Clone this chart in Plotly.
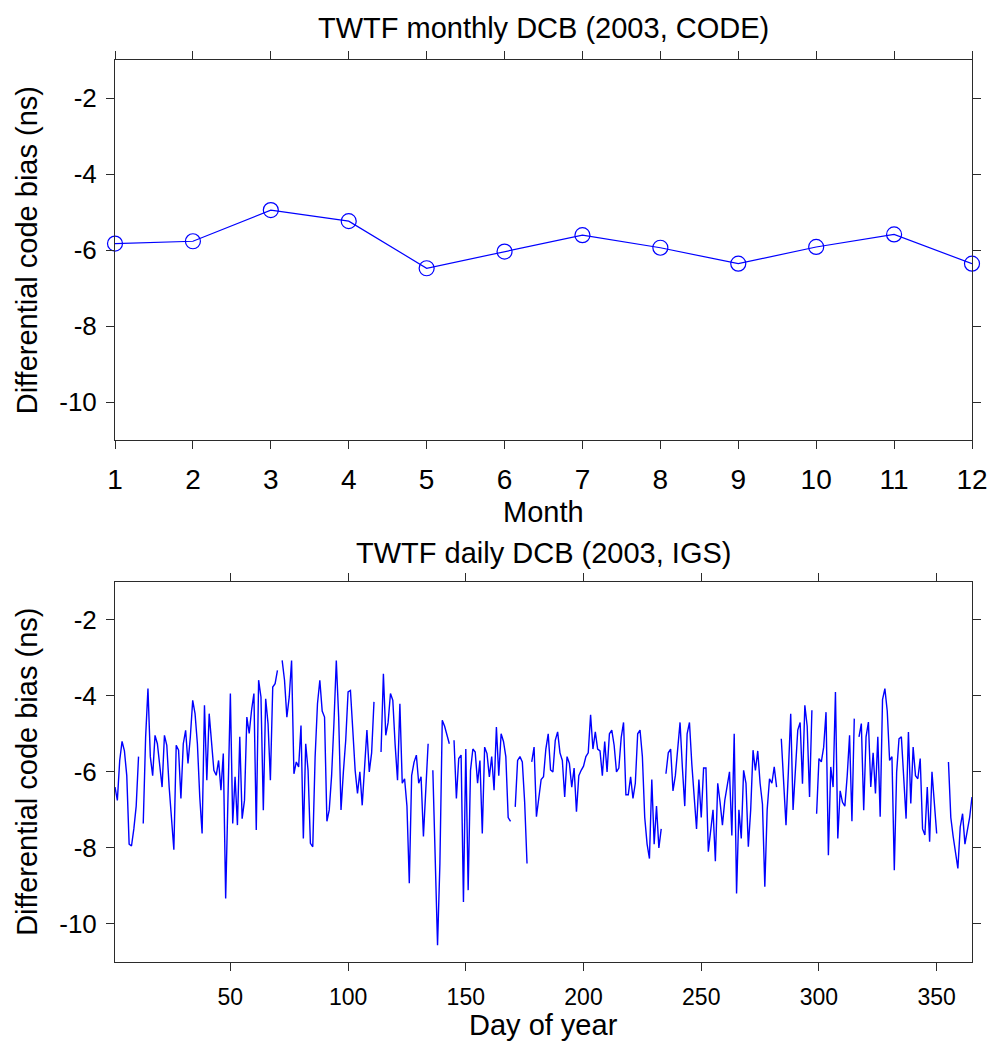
import plotly.graph_objects as go

# ---------------- data ----------------
months = [1, 2, 3, 4, 5, 6, 7, 8, 9, 10, 11, 12]
monthly_dcb = [-5.83, -5.77, -4.95, -5.24, -6.48, -6.04, -5.61, -5.94, -6.36, -5.92, -5.59, -6.36]

days = list(range(1, 366))
daily_dcb = [
    -6.4, -6.75, -5.7, -5.2, -5.45, -6.1, -7.9, -7.95, -7.5, -6.9,          # 1-10
    -5.6, None, -7.36, -5.1, -3.81, -5.6, -6.1, -5.04, -5.26, -5.9,         # 11-20
    -6.4, -5.04, -5.3, -6.4, -7.27, -8.05, -5.3, -5.43, -6.7, -5.26,        # 21-30
    -4.91, -5.78, -5.08, -4.12, -4.47, -5.26, -6.66, -7.62, -4.25, -6.22,   # 31-40
    -4.47, -5.17, -5.96, -6.09, -5.7, -6.48, -5.52, -9.33, -7.0, -3.94,     # 41-50
    -7.36, -6.13, -7.4, -5.08, -7.23, -6.75, -4.56, -4.99, -4.38, -3.94,    # 51-60
    -7.53, -3.59, -4.03, -7.01, -4.08, -4.73, -6.22, -3.77, -3.68, -3.33,   # 61-70
    None, -3.07, -3.59, -4.56, -4.03, -3.07, -6.05, -5.74, -5.87, -4.78,    # 71-80
    -7.75, -5.26, -5.96, -7.88, -7.97, -5.61, -4.21, -3.59, -4.4, -4.56,    # 81-90
    -7.3, -7.0, -6.1, -4.7, -3.07, -4.56, -7.0, -6.0, -5.17, -3.9,          # 91-100
    -3.86, -4.9, -5.96, -6.57, -6.0, -6.88, -5.9, -4.9, -6.0, -5.5,         # 101-110
    -4.16, None, None, -5.48, -3.42, -5.04, -4.7, -3.94, -4.12, -5.3,       # 111-120
    -6.22, -4.21, -6.3, -6.18, -6.9, -8.93, -6.1, -5.75, -5.56, -6.3,       # 121-130
    -6.13, -7.7, -6.4, -5.26, None, -5.96, -8.2, -10.56, -8.4, -4.64,       # 131-140
    -4.8, -5.0, -5.26, None, -5.17, -6.7, -5.65, -5.56, -9.42, -5.4,        # 141-150
    -9.11, -5.96, -5.4, -5.48, -6.3, -5.7, -7.62, -5.35, -5.52, -6.13,      # 151-160
    -5.6, -6.48, -4.82, -6.1, -5.0, -5.2, -5.6, -7.2, -7.3, None,           # 161-170
    -6.92, -5.7, -5.6, -5.74, -6.8, -8.41, None, -5.74, -5.35, -7.18,       # 171-180
    -6.75, -6.2, -6.13, -5.4, -5.0, -5.95, -6.0, -5.17, -4.95, -5.5,        # 181-190
    -5.7, -6.66, -5.6, -5.78, -6.4, -5.9, -7.05, -6.1, -5.96, -5.85,        # 191-200
    -5.6, -5.5, -4.5, -5.4, -4.95, -5.4, -5.45, -6.1, -5.2, -6.0,           # 201-210
    -5.0, -4.9, -5.3, -6.0, -5.9, -5.1, -4.7, -6.6, -6.6, -6.13,            # 211-220
    -6.7, -6.3, -5.0, -4.9, -5.6, -7.2, -7.9, -8.28, -6.2, -7.9,            # 221-230
    -6.9, -8.0, -7.5, None, -6.05, -5.5, -5.4, -6.5, -6.1, -5.3,            # 231-240
    -4.7, -5.9, -6.9, -5.0, -4.7, -5.8, -6.7, -7.5, -6.2, -7.2,             # 241-250
    -5.9, -5.9, -8.1, -7.6, -7.0, -8.35, -6.3, -6.8, -7.4, -6.75,           # 251-260
    -6.4, -6.0, -7.67, -5.0, -9.2, -7.0, -7.75, -5.96, -6.3, -7.97,         # 261-270
    -7.0, -5.43, -5.96, -5.45, -6.3, -6.85, -9.02, -7.0, -6.18, -6.3,       # 271-280
    -5.87, -6.4, None, -5.13, -6.13, -7.4, -6.0, -4.47, -7.0, -5.8,         # 281-290
    -4.9, -4.7, -6.31, -4.25, -4.8, -6.66, -4.38, None, -7.1, -5.65,        # 291-300
    -5.74, -5.35, -4.43, -8.19, -5.87, -6.4, -3.9, -7.75, -6.5, -6.8,       # 301-310
    -6.9, -6.1, -5.04, -7.3, -4.6, None, -5.08, -4.73, -7.01, -5.08,        # 311-320
    -4.69, -6.4, -5.5, -6.57, -5.08, -7.18, -4.1, -3.81, -4.4, -5.7,        # 321-330
    -5.6, -8.59, -6.0, -5.13, -5.08, -6.2, -7.23, -4.95, -6.83, -5.35,      # 331-340
    -6.1, -6.18, -5.65, -7.5, -7.66, -6.4, -7.84, -6.0, -6.9, -7.62,        # 341-350
    None, None, None, None, -5.74, -7.2, -7.7, -8.1, -8.54, -7.45,          # 351-360
    -7.1, -7.9, -7.5, -7.2, -6.66,                                          # 361-365
]

y_ticks = [-10, -8, -6, -4, -2]
y_tick_labels = ["-10", "-8", "-6", "-4", "-2"]
day_ticks = [50, 100, 150, 200, 250, 300, 350]

top_title = "TWTF monthly DCB (2003, CODE)"
bottom_title = "TWTF daily DCB (2003, IGS)"
y_label = "Differential code bias (ns)"
x_label_top = "Month"
x_label_bottom = "Day of year"

# ---------------- figure ----------------
FONT = "Liberation Sans, Arial, Helvetica, sans-serif"
BLUE = "#0000ff"
AX = "#2b2b2b"

fig = go.Figure()

fig.add_trace(go.Scatter(
    x=months, y=monthly_dcb, mode="lines+markers",
    line=dict(color=BLUE, width=1.2),
    marker=dict(symbol="circle-open", size=15, color=BLUE, line=dict(width=1.2, color=BLUE)),
    cliponaxis=False, xaxis="x", yaxis="y", showlegend=False,
))

fig.add_trace(go.Scatter(
    x=days, y=daily_dcb, mode="lines",
    line=dict(color=BLUE, width=1.4),
    connectgaps=False, xaxis="x2", yaxis="y2", showlegend=False,
))

common = dict(
    showline=True, linecolor=AX, linewidth=1, mirror="allticks",
    ticks="outside", ticklen=8, tickwidth=1, tickcolor=AX,
    showgrid=False, zeroline=False, automargin=False,
)

fig.update_layout(
    width=992, height=1044,
    margin=dict(l=115, r=20, t=60, b=82),
    paper_bgcolor="white", plot_bgcolor="white",
    font=dict(family=FONT, color="black"),
    xaxis=dict(domain=[0, 1], range=[1, 12], tickvals=months,
               tickfont=dict(size=28), anchor="y", ticklabelstandoff=6, **common),
    yaxis=dict(domain=[0.5787, 1], range=[-11, -1], tickvals=y_ticks, ticktext=y_tick_labels,
               tickfont=dict(size=26), anchor="x", ticklabelstandoff=4, **common),
    xaxis2=dict(domain=[0, 1], range=[1, 365], tickvals=day_ticks,
                tickfont=dict(size=23), anchor="y2", ticklabelstandoff=6, **common),
    yaxis2=dict(domain=[0, 0.4216], range=[-11, -1], tickvals=y_ticks, ticktext=y_tick_labels,
                tickfont=dict(size=26), anchor="x2", ticklabelstandoff=4, **common),
)

ann_font = dict(family=FONT, size=29, color="black")
anns = [
    dict(text=top_title, x=0.5, y=1.0355, xanchor="center", yanchor="middle"),
    dict(text=x_label_top, x=0.5, y=0.4989, xanchor="center", yanchor="middle"),
    dict(text=bottom_title, x=0.5, y=0.4534, xanchor="center", yanchor="middle"),
    dict(text=x_label_bottom, x=0.5, y=-0.0698, xanchor="center", yanchor="middle"),
    dict(text=y_label, x=-0.1027, y=0.789, xanchor="center", yanchor="middle", textangle=-90),
    dict(text=y_label, x=-0.1027, y=0.2108, xanchor="center", yanchor="middle", textangle=-90),
]
for a in anns:
    a.update(xref="paper", yref="paper", showarrow=False, font=ann_font)
fig.update_layout(annotations=anns)

fig.write_html("out.html")
